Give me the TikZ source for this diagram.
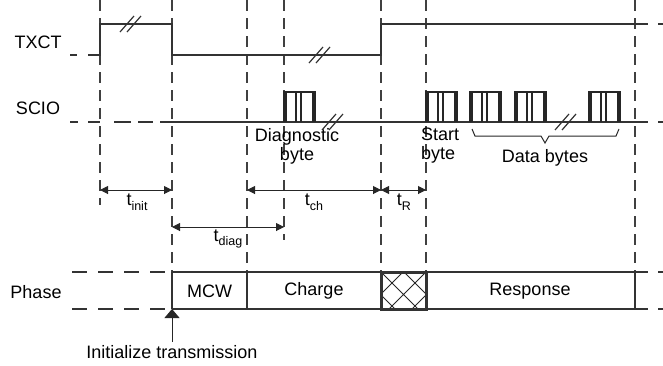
\documentclass[tikz,border=0pt]{standalone}
\usepackage{fontspec}
\setmainfont{Liberation Sans}
\usetikzlibrary{arrows.meta}
\newcommand{\tsub}[2]{#1\raisebox{-4.5pt}{\fontsize{12.5}{12.5}\selectfont #2}}
\begin{document}
\begin{tikzpicture}[x=1pt,y=-1pt,
  sig/.style={line width=2pt, draw=black!80, line join=miter},
  guide/.style={line width=1.1pt, draw=black!75, dash pattern=on 11pt off 7pt},
  phdash/.style={line width=2pt, draw=black!80, dash pattern=on 15pt off 11pt},
  lbl/.style={font=\fontsize{18}{19}\selectfont, inner sep=0pt, text=black},
  dimarrow/.style={line width=1pt, draw=black!85, {Triangle[length=8pt,width=8pt]}-{Triangle[length=8pt,width=8pt]}},
  brk/.style={line width=1.2pt, draw=black!80},
  pulse/.style={line width=1.3pt, draw=black!85},
]
\useasboundingbox (0,0) rectangle (663,365);

% vertical guides
\foreach \x/\yb in {100/205,172/272,247/272,284/240,381/272,426/272,635/272}
  \draw[guide] (\x,0) -- (\x,\yb);

% labels
\node[lbl] (txct) at (38,42) {TXCT};
\node[lbl] (scio) at (38,108) {SCIO};
\node[lbl] (phase) at (36,292) {Phase};

% TXCT signal
\draw[sig] (70,55) -- (77,55);
\draw[sig] (88,55) -- (100,55) -- (100,24) -- (172,24) -- (172,55) -- (381,55) -- (381,24) -- (648,24);
\draw[sig] (658,24) -- (663,24);

% SCIO signal
\draw[sig] (70,122) -- (78,122);
\draw[sig] (88,122) -- (100,122);
\draw[sig] (114,122) -- (131,122);
\draw[sig] (138,122) -- (153,122);
\draw[sig] (160,122) -- (648,122);
\draw[sig] (658,122) -- (663,122);

% bytes
\foreach \p in {284,426,470,515,589}{
  \draw[pulse] (\p,122) -- (\p,92) -- (\p+31,92) -- (\p+31,122);
  \draw[line width=3pt, draw=black!85] (\p+1.2,122) -- (\p+1.2,91.4);
  \draw[line width=3pt, draw=black!85] (\p+29.8,122) -- (\p+29.8,91.4);
  \draw[line width=1.5pt, draw=black!85] (\p+12,122) -- (\p+12,92);
  \draw[line width=1.5pt, draw=black!85] (\p+17,122) -- (\p+17,92);
}

% break marks
\foreach \cx/\cy in {131/24,320/55,333/122,566/122}{
  \draw[brk] (\cx-11,\cy+8) -- (\cx+3,\cy-8);
  \draw[brk] (\cx-4,\cy+8) -- (\cx+10,\cy-8);
}

% byte labels
\node[lbl, align=center] (diagbyte) at (297,146) {Diagnostic\\byte};
\node[lbl, align=left, anchor=west] (startbyte) at (421,146) {Start\\byte};
\draw[line width=1pt, draw=black!85] (472,129) -- (475,136) -- (541,136) -- (545,143) -- (549,136) -- (616,136) -- (619,129);
\node[lbl] (databytes) at (545,158) {Data bytes};

% dimension arrows
\coordinate (ia) at (100,190);
\coordinate (ib) at (172,190);
\coordinate (ca) at (247,190);
\coordinate (cb) at (381,190);
\coordinate (rb) at (426,190);
\coordinate (da) at (172,227);
\coordinate (db) at (284,227);
\draw[dimarrow] (ia) -- (ib);
\draw[dimarrow] (ca) -- (cb);
\draw[dimarrow] (cb) -- (rb);
\draw[dimarrow] (da) -- (db);
\node[lbl] (tinit) at (137,202) {\tsub{t}{init}};
\node[lbl] (tch) at (314,202) {\tsub{t}{ch}};
\node[lbl] (tr) at (404,202) {\tsub{t}{R}};
\node[lbl] (tdiag) at (228,239) {\tsub{t}{diag}};

% phase row
\draw[phdash] (72,272) -- (172,272);
\draw[phdash] (72,309) -- (172,309);
\draw[sig] (172,272) -- (648,272);
\draw[sig] (172,309) -- (648,309);
\draw[sig] (658,272) -- (663,272);
\draw[sig] (658,309) -- (663,309);
\foreach \x in {172,247,635}
  \draw[sig] (\x,272) -- (\x,309);
\draw[line width=0.8pt, draw=black!85]
  (381,272) -- (418,309)
  (404,272) -- (426,294)
  (381,295) -- (395,309)
  (426,272) -- (389,309)
  (403,272) -- (381,294)
  (426,295) -- (412,309);
\draw[line width=3pt, draw=black!80] (381,272) rectangle (426,309);
\node[lbl] (mcw) at (209.5,291) {MCW};
\node[lbl] (charge) at (314,291) {Charge};
\node[lbl] (response) at (530,291) {Response};

% initialize transmission
\node[lbl] (init) at (172,352) {Initialize transmission};
\coordinate (initpt) at (172,309);
\draw[line width=1pt, draw=black!85, -{Triangle[length=9pt,width=15pt]}] (init.north) ++(0,-3) -- (initpt);
\end{tikzpicture}
\end{document}
